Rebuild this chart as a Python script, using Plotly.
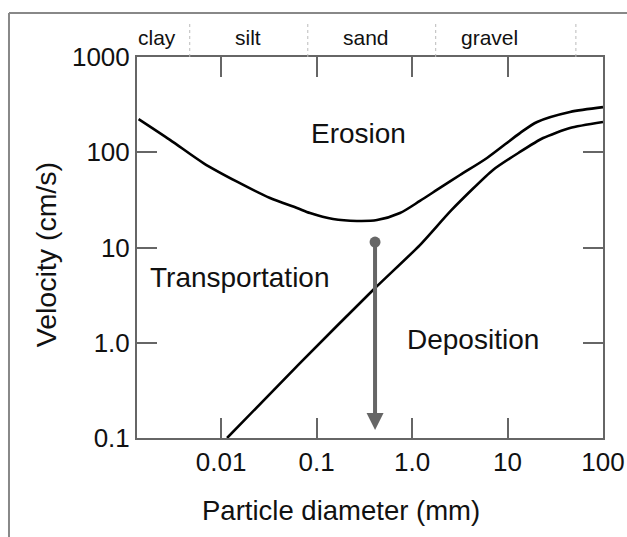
import math
import plotly.graph_objects as go

# ---------------- data ----------------
# Erosion threshold curve (upper)
erosion_d = [0.00137, 0.00292, 0.00659, 0.0147, 0.0326, 0.0625, 0.0855, 0.149, 0.265, 0.43,
             0.748, 1.21, 1.96, 3.18, 6.10, 13.5, 20.4, 45.1, 100]
erosion_v = [223, 135, 76.6, 49.1, 33.1, 26.0, 23.0, 19.9, 19.0, 19.4,
             23.0, 30.8, 42.2, 57.7, 87.1, 159, 208, 265, 298]

# Deposition (settling) curve (lower)
deposition_d = [0.01156, 0.0671, 0.391, 1.21, 2.6, 7.05, 13.5, 23.6, 45.1, 100]
deposition_v = [0.1, 0.612, 3.58, 10.6, 24.8, 65.2, 100.7, 141, 180, 208]

# Arrow (particle settling example)
arrow_d = 0.41
arrow_v_start = 11.4
arrow_v_end = 0.121

# Axis ticks
x_tickvals = [0.01, 0.1, 1, 10, 100]
x_ticktext = ["0.01", "0.1", "1.0", "10", "100"]
y_tickvals = [0.1, 1, 10, 100, 1000]
y_ticktext = ["0.1", "1.0", "10", "100", "1000"]

# Grain-size class band on top
class_names = ["clay", "silt", "sand", "gravel"]
class_label_d = [0.00216, 0.0193, 0.331, 6.41]
class_bounds_d = [0.0047, 0.081, 1.77, 52]

# Region labels
region_names = ["Erosion", "Transportation", "Deposition"]
region_d = [0.272, 0.0158, 4.35]
region_v = [155.6, 4.9, 1.094]

FONT = "Liberation Sans, Arial, Helvetica, sans-serif"
AX = "#666666"
TXT = "#111111"

fig = go.Figure()

fig.add_trace(go.Scatter(x=erosion_d, y=erosion_v, mode="lines",
                         line=dict(color="black", width=2.6, shape="spline", smoothing=0.8),
                         hoverinfo="skip", showlegend=False))
fig.add_trace(go.Scatter(x=deposition_d, y=deposition_v, mode="lines",
                         line=dict(color="black", width=2.6, shape="spline", smoothing=0.6),
                         hoverinfo="skip", showlegend=False))
fig.add_trace(go.Scatter(x=[arrow_d], y=[arrow_v_start], mode="markers",
                         marker=dict(color=AX, size=11),
                         hoverinfo="skip", showlegend=False))

annotations = []
annotations.append(dict(x=math.log10(arrow_d), y=math.log10(arrow_v_end),
                        ax=math.log10(arrow_d), ay=math.log10(arrow_v_start),
                        xref="x", yref="y", axref="x", ayref="y",
                        text="", showarrow=True, arrowhead=2, arrowsize=0.85,
                        arrowwidth=4, arrowcolor=AX))

for name, d, v in zip(region_names, region_d, region_v):
    annotations.append(dict(x=math.log10(d), y=math.log10(v), xref="x", yref="y",
                            text=name, showarrow=False,
                            font=dict(family=FONT, size=28, color=TXT),
                            xanchor="center", yanchor="middle"))

for name, d in zip(class_names, class_label_d):
    annotations.append(dict(x=math.log10(d), y=1.05, xref="x", yref="paper",
                            text=name, showarrow=False,
                            font=dict(family=FONT, size=21, color=TXT),
                            xanchor="center", yanchor="middle"))

annotations.append(dict(x=0.4378, y=-0.189, xref="paper", yref="paper",
                        text="Particle diameter (mm)", showarrow=False,
                        font=dict(family=FONT, size=27.5, color=TXT),
                        xanchor="center", yanchor="middle"))
annotations.append(dict(x=-0.195, y=0.48, xref="paper", yref="paper",
                        text="Velocity (cm/s)", showarrow=False, textangle=-90,
                        font=dict(family=FONT, size=28.5, color=TXT),
                        xanchor="center", yanchor="middle"))

shapes = []
for b in class_bounds_d:
    shapes.append(dict(type="line", xref="x", yref="paper", x0=b, x1=b, y0=1.0, y1=1.0866,
                       line=dict(color="#bbbbbb", width=1, dash="dot")))
# outer frame (top and left edges; the rest lies outside the picture)
shapes.append(dict(type="line", xref="paper", yref="paper", x0=-0.2747, x1=1.1,
                   y0=1.1155, y1=1.1155, line=dict(color="#888888", width=2)))
shapes.append(dict(type="line", xref="paper", yref="paper", x0=-0.2747, x1=-0.2747,
                   y0=-0.3, y1=1.1155, line=dict(color="#888888", width=2)))

axis_common = dict(type="log", showgrid=False, zeroline=False, showline=True,
                   linecolor=AX, linewidth=2, mirror="ticks", ticks="inside",
                   ticklen=20, tickwidth=2, tickcolor=AX,
                   tickfont=dict(family=FONT, size=26, color=TXT))

fig.update_layout(
    width=627, height=537,
    margin=dict(l=137, r=24, t=57, b=99, autoexpand=False),
    paper_bgcolor="white", plot_bgcolor="white",
    xaxis=dict(range=[-2.88, 2], tickvals=x_tickvals, ticktext=x_ticktext, **axis_common),
    yaxis=dict(range=[-1, 3], tickvals=y_tickvals, ticktext=y_ticktext, **axis_common),
    annotations=annotations, shapes=shapes, showlegend=False,
)

fig.write_html(
    "out.html",
    config={"displayModeBar": False},
    post_script="document.documentElement.style.margin='0';"
                "document.body.style.margin='0';"
                "document.documentElement.style.overflow='hidden';"
                "document.body.style.overflow='hidden';",
)
